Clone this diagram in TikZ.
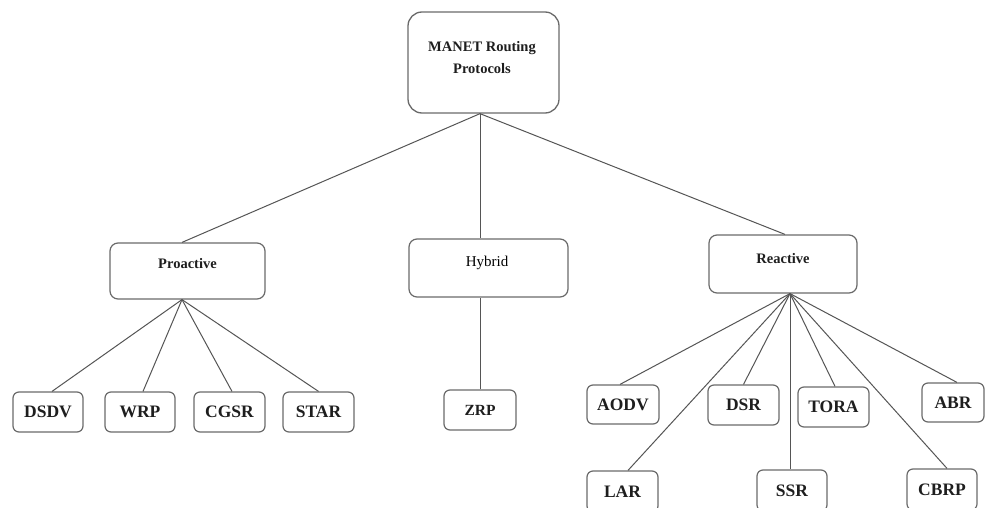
\documentclass[tikz,border=0pt]{standalone}
\usepackage{fontspec}
\setmainfont{Liberation Serif}
\usetikzlibrary{calc}
\definecolor{boxline}{HTML}{6A6A6A}
\definecolor{conline}{HTML}{555555}
\definecolor{txt}{HTML}{1E1E1E}
\tikzset{
  rootbox/.style={draw=boxline, line width=1.3pt, rounded corners=14pt, minimum width=151pt, minimum height=101pt, inner sep=0pt, text=txt},
  midbox/.style={draw=boxline, line width=1.2pt, rounded corners=8pt, inner sep=0pt, text=txt, font=\fontsize{14.5}{17}\selectfont\bfseries},
  leafbox/.style={draw=boxline, line width=1.2pt, rounded corners=6pt, inner sep=0pt, text=txt, font=\fontsize{17.5}{20}\selectfont\bfseries},
  conn/.style={draw=conline, line width=1pt},
  lbl/.style={inner sep=0pt, text=txt}
}
\begin{document}
\begin{tikzpicture}[x=1pt,y=-1pt]
\useasboundingbox (0,0) rectangle (985,508);
\clip (0,0) rectangle (985,508);
\fill[white] (0,0) rectangle (985,508);
% root
\node[rootbox] (manet) at (483.5,62.5) {};
\node[lbl, align=center, font=\fontsize{14.5}{22}\selectfont\bfseries] (manett) at (482,58) {MANET Routing\\Protocols};
% middle
\node[midbox, minimum width=155pt, minimum height=56pt] (pro) at (187.5,271) {};
\node[lbl, font=\fontsize{14.5}{17}\selectfont\bfseries] (prot) at (187.5,264) {Proactive};
\node[midbox, minimum width=159pt, minimum height=58pt] (hyb) at (488.5,268) {};
\node[lbl, font=\fontsize{15}{17}\selectfont, text=black] (hybt) at (487,263) {Hybrid};
\node[midbox, minimum width=148pt, minimum height=58pt] (rea) at (783,264) {};
\node[lbl, font=\fontsize{14.5}{17}\selectfont\bfseries] (reat) at (783,259) {Reactive};
% leaves
\node[leafbox, minimum width=70pt, minimum height=40pt] (dsdv) at (48,412) {DSDV};
\node[leafbox, minimum width=70pt, minimum height=40pt] (wrp) at (140,412) {WRP};
\node[leafbox, minimum width=71pt, minimum height=40pt] (cgsr) at (229.5,412) {CGSR};
\node[leafbox, minimum width=71pt, minimum height=40pt] (star) at (318.5,412) {STAR};
\node[leafbox, minimum width=72pt, minimum height=40pt, font=\fontsize{15.5}{20}\selectfont\bfseries] (zrp) at (480,410) {ZRP};
\node[leafbox, minimum width=72pt, minimum height=39pt] (aodv) at (623,404.5) {AODV};
\node[leafbox, minimum width=71pt, minimum height=40pt] (dsr) at (743.5,405) {DSR};
\node[leafbox, minimum width=71pt, minimum height=40pt] (tora) at (833.5,407) {TORA};
\node[leafbox, minimum width=62pt, minimum height=39pt] (abr) at (953,402.5) {ABR};
\node[leafbox, minimum width=71pt, minimum height=41pt] (lar) at (622.5,491.5) {LAR};
\node[leafbox, minimum width=70pt, minimum height=41pt] (ssr) at (792,490.5) {SSR};
\node[leafbox, minimum width=70pt, minimum height=41pt] (cbrp) at (942,489.5) {CBRP};
% connectors
\coordinate (apex) at ($(manet.south)+(-3.5,0)$);
\draw[conn] (apex) -- ($(pro.north)+(-5.5,0)$);
\draw[conn] (apex) -- (apex |- hyb.north);
\draw[conn] (apex) -- ($(rea.north)+(2,0)$);
\coordinate (papex) at ($(pro.south)+(-5.5,0)$);
\draw[conn] (papex) -- ($(dsdv.north)+(4,0)$);
\draw[conn] (papex) -- ($(wrp.north)+(3,0)$);
\draw[conn] (papex) -- ($(cgsr.north)+(2.5,0)$);
\draw[conn] (papex) -- (star.north);
\draw[conn] (zrp.north) -- (zrp.north |- hyb.south);
\coordinate (rapex) at ($(rea.south)+(7,0)$);
\draw[conn] (rapex) -- ($(aodv.north)+(-3,0)$);
\draw[conn] (rapex) -- ($(lar.north)+(5.5,0)$);
\draw[conn] (rapex) -- (dsr.north);
\draw[conn] (rapex) -- (rapex |- ssr.north);
\draw[conn] (rapex) -- ($(tora.north)+(1.5,0)$);
\draw[conn] (rapex) -- ($(cbrp.north)+(5,0)$);
\draw[conn] (rapex) -- ($(abr.north)+(4,0)$);
\end{tikzpicture}
\end{document}
